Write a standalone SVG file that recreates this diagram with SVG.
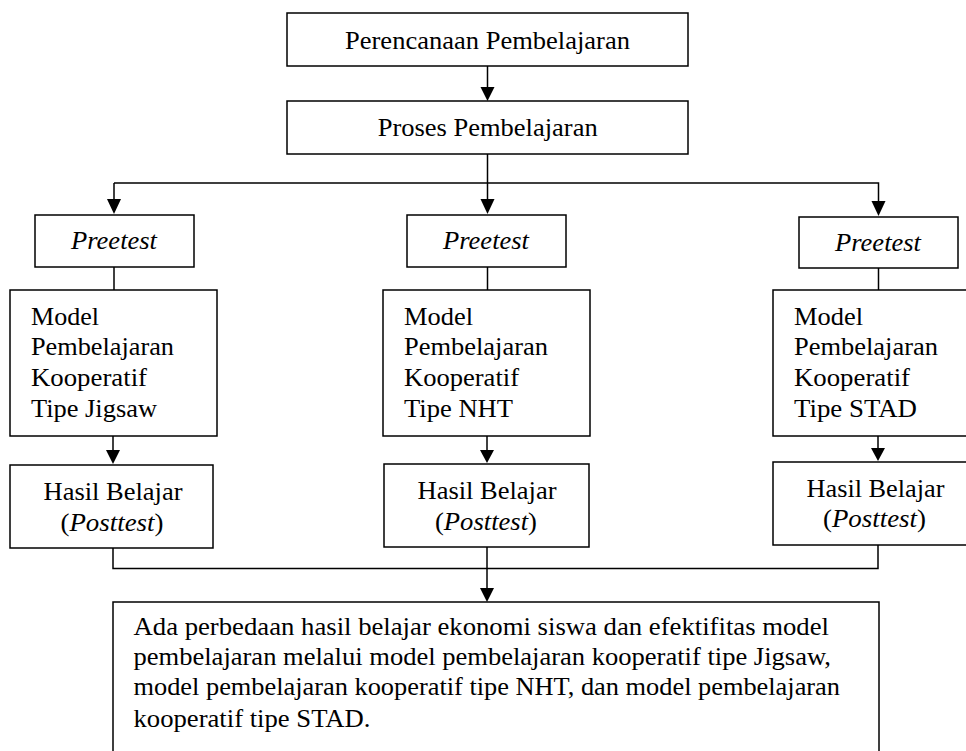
<svg xmlns="http://www.w3.org/2000/svg" width="966" height="751" viewBox="0 0 966 751">
<style>
.box{fill:#fff;stroke:#000;stroke-width:1.5}
.ln{fill:none;stroke:#000;stroke-width:1.5}
.ah{fill:#000}
text{font-family:'Liberation Serif','Times New Roman',serif;fill:#000;font-size:25px}
.c{text-anchor:middle}
.i{font-style:italic}
</style>
<g id="connectors">
<path class="ln" d="M487.5 66 V88"/>
<path class="ah" d="M480.5 87 L494.5 87 L487.5 101 Z"/>
<path class="ln" d="M487.5 154 V201"/>
<path class="ln" d="M114 183 H878.5 V201"/>
<path class="ln" d="M114 183 V201"/>
<path class="ah" d="M107 199 L121 199 L114 214 Z"/>
<path class="ah" d="M480.5 199 L494.5 199 L487.5 214 Z"/>
<path class="ah" d="M871.5 201 L885.5 201 L878.5 216 Z"/>
<path class="ln" d="M114 267 V290"/>
<path class="ln" d="M487.5 267 V290"/>
<path class="ln" d="M878.5 268 V290"/>
<path class="ln" d="M113 436 V452"/>
<path class="ah" d="M106 450 L120 450 L113 464 Z"/>
<path class="ln" d="M487 436 V452"/>
<path class="ah" d="M480 450 L494 450 L487 463 Z"/>
<path class="ln" d="M878 436 V450"/>
<path class="ah" d="M871 448 L885 448 L878 461 Z"/>
<path class="ln" d="M113 548 V568.5 H878 V545"/>
<path class="ln" d="M487 547 V590"/>
<path class="ah" d="M480 588 L494 588 L487 602 Z"/>
</g>
<g id="perencanaan">
<rect class="box" x="287" y="13" width="401" height="53"/>
<text class="c" x="487.5" y="49" textLength="285" lengthAdjust="spacingAndGlyphs">Perencanaan Pembelajaran</text>
</g>
<g id="proses">
<rect class="box" x="287" y="101" width="401" height="53"/>
<text class="c" x="487.7" y="136" textLength="220" lengthAdjust="spacingAndGlyphs">Proses Pembelajaran</text>
</g>
<g id="preetest1">
<rect class="box" x="35" y="215" width="159" height="52"/>
<text class="c i" x="114" y="249" textLength="86" lengthAdjust="spacingAndGlyphs">Preetest</text>
</g>
<g id="preetest2">
<rect class="box" x="407" y="215" width="159" height="52"/>
<text class="c i" x="486" y="249" textLength="86" lengthAdjust="spacingAndGlyphs">Preetest</text>
</g>
<g id="preetest3">
<rect class="box" x="799" y="217" width="159" height="51"/>
<text class="c i" x="878" y="251" textLength="86" lengthAdjust="spacingAndGlyphs">Preetest</text>
</g>
<g id="model1">
<rect class="box" x="10" y="290" width="207" height="146"/>
<text x="31" y="325" textLength="68" lengthAdjust="spacingAndGlyphs">Model</text>
<text x="31" y="355" textLength="143" lengthAdjust="spacingAndGlyphs">Pembelajaran</text>
<text x="31" y="386" textLength="116" lengthAdjust="spacingAndGlyphs">Kooperatif</text>
<text x="31" y="417" textLength="126" lengthAdjust="spacingAndGlyphs">Tipe Jigsaw</text>
</g>
<g id="model2">
<rect class="box" x="383" y="290" width="207" height="146"/>
<text x="404" y="325" textLength="69" lengthAdjust="spacingAndGlyphs">Model</text>
<text x="404" y="355" textLength="144" lengthAdjust="spacingAndGlyphs">Pembelajaran</text>
<text x="404" y="386" textLength="115" lengthAdjust="spacingAndGlyphs">Kooperatif</text>
<text x="404" y="417" textLength="109" lengthAdjust="spacingAndGlyphs">Tipe NHT</text>
</g>
<g id="model3">
<rect class="box" x="773" y="290" width="207" height="146"/>
<text x="794" y="325" textLength="69" lengthAdjust="spacingAndGlyphs">Model</text>
<text x="794" y="355" textLength="144" lengthAdjust="spacingAndGlyphs">Pembelajaran</text>
<text x="794" y="386" textLength="116" lengthAdjust="spacingAndGlyphs">Kooperatif</text>
<text x="794" y="417" textLength="123" lengthAdjust="spacingAndGlyphs">Tipe STAD</text>
</g>
<g id="hasil1">
<rect class="box" x="10" y="465" width="203" height="83"/>
<text class="c" x="113" y="500" textLength="139" lengthAdjust="spacingAndGlyphs">Hasil Belajar</text>
<text class="c" x="112" y="531" textLength="103" lengthAdjust="spacingAndGlyphs">(<tspan class="i">Posttest</tspan>)</text>
</g>
<g id="hasil2">
<rect class="box" x="384" y="464" width="205" height="83"/>
<text class="c" x="487" y="499" textLength="139" lengthAdjust="spacingAndGlyphs">Hasil Belajar</text>
<text class="c" x="486" y="530" textLength="102" lengthAdjust="spacingAndGlyphs">(<tspan class="i">Posttest</tspan>)</text>
</g>
<g id="hasil3">
<rect class="box" x="773" y="462" width="207" height="83"/>
<text class="c" x="875.5" y="497" textLength="138" lengthAdjust="spacingAndGlyphs">Hasil Belajar</text>
<text class="c" x="874.5" y="527" textLength="103" lengthAdjust="spacingAndGlyphs">(<tspan class="i">Posttest</tspan>)</text>
</g>
<g id="kesimpulan">
<rect class="box" x="113" y="602" width="766" height="160"/>
<text x="133.5" y="635" textLength="695.5" lengthAdjust="spacingAndGlyphs">Ada perbedaan hasil belajar ekonomi siswa dan efektifitas model</text>
<text x="133.5" y="665" textLength="697.5" lengthAdjust="spacingAndGlyphs">pembelajaran melalui model pembelajaran kooperatif tipe Jigsaw,</text>
<text x="133.5" y="695" textLength="706.5" lengthAdjust="spacingAndGlyphs">model pembelajaran kooperatif tipe NHT, dan model pembelajaran</text>
<text x="133.5" y="727" textLength="237" lengthAdjust="spacingAndGlyphs">kooperatif tipe STAD.</text>
</g>
</svg>
